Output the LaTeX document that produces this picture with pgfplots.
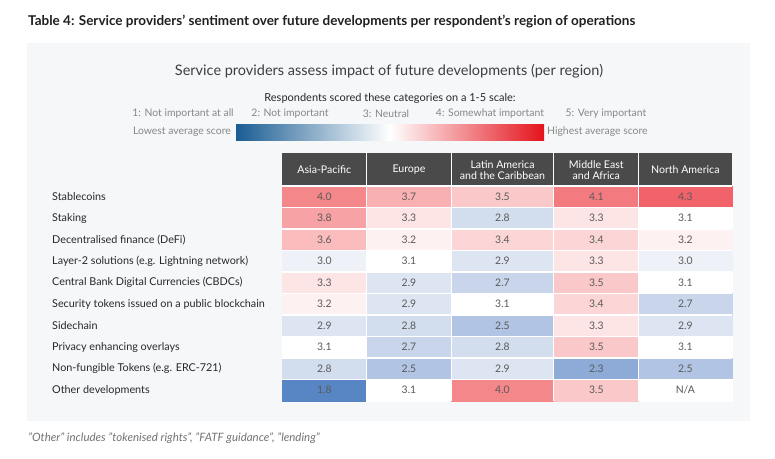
\documentclass[border=0pt]{standalone}
\usepackage{pgfplots}
\pgfplotsset{compat=1.18}
\usepackage{fontspec}
\setmainfont{Lato}
\definecolor{panel}{RGB}{246,247,249}
\definecolor{hdr}{RGB}{74,74,74}
\definecolor{txt}{RGB}{40,40,40}
\definecolor{subt}{RGB}{62,62,62}
\definecolor{celltxt}{RGB}{90,90,90}
\definecolor{lgray}{RGB}{135,135,135}
\definecolor{fgray}{RGB}{115,115,115}
\definecolor{cbblue}{RGB}{26,93,147}
\definecolor{cbred}{RGB}{228,18,27}
\begin{document}
\begin{tikzpicture}
\begin{axis}[
  scale only axis, width=775bp, height=459bp,
  xmin=0, xmax=775, ymin=0, ymax=459, y dir=reverse,
  hide axis, clip=false,
  colormap={cells}{rgb255(18cm)=(88,134,197) rgb255(23cm)=(142,171,216) rgb255(25cm)=(178,196,227) rgb255(27cm)=(200,213,234) rgb255(29cm)=(221,229,242) rgb255(31cm)=(255,255,255) rgb255(33cm)=(253,228,229) rgb255(35cm)=(251,200,201) rgb255(37cm)=(249,176,178) rgb255(40cm)=(244,135,138) rgb255(43cm)=(242,98,106)},
  point meta min=1.8, point meta max=4.3,
]
% backgrounds
\fill[white] (axis cs:0,0) rectangle (axis cs:775,459);
\fill[panel] (axis cs:27,43) rectangle (axis cs:750,421);
\fill[white] (axis cs:282,186) rectangle (axis cs:731.7,401);
\fill[hdr] (axis cs:282,153) rectangle (axis cs:731.7,186);

% heatmap: grid of cell corners; with flat corner each cell takes the score
% stored at its top-left corner (last column/row are unused placeholders;
% the N/A cell is given the neutral value so it stays white)
\addplot[surf, shader=flat corner, mesh/cols=6, point meta=\thisrow{s}] table {
x y s
282 186 4.0
366.6 186 3.7
451.3 186 3.5
553.8 186 4.1
638.8 186 4.3
731.7 186 3.1
282 207.5 3.8
366.6 207.5 3.3
451.3 207.5 2.8
553.8 207.5 3.3
638.8 207.5 3.1
731.7 207.5 3.1
282 229 3.6
366.6 229 3.2
451.3 229 3.4
553.8 229 3.4
638.8 229 3.2
731.7 229 3.1
282 250.5 3.0
366.6 250.5 3.1
451.3 250.5 2.9
553.8 250.5 3.3
638.8 250.5 3.0
731.7 250.5 3.1
282 272 3.3
366.6 272 2.9
451.3 272 2.7
553.8 272 3.5
638.8 272 3.1
731.7 272 3.1
282 293.5 3.2
366.6 293.5 2.9
451.3 293.5 3.1
553.8 293.5 3.4
638.8 293.5 2.7
731.7 293.5 3.1
282 315 2.9
366.6 315 2.8
451.3 315 2.5
553.8 315 3.3
638.8 315 2.9
731.7 315 3.1
282 336.5 3.1
366.6 336.5 2.7
451.3 336.5 2.8
553.8 336.5 3.5
638.8 336.5 3.1
731.7 336.5 3.1
282 358 2.8
366.6 358 2.5
451.3 358 2.9
553.8 358 2.3
638.8 358 2.5
731.7 358 3.1
282 379.5 1.8
366.6 379.5 3.1
451.3 379.5 4.0
553.8 379.5 3.5
638.8 379.5 3.1
731.7 379.5 3.1
282 401 3.1
366.6 401 3.1
451.3 401 3.1
553.8 401 3.1
638.8 401 3.1
731.7 401 3.1
};

% white cell separators
\draw[white, line width=1.2bp] (axis cs:366.6,153) -- (axis cs:366.6,401);
\draw[white, line width=1.2bp] (axis cs:451.3,153) -- (axis cs:451.3,401);
\draw[white, line width=1.2bp] (axis cs:553.8,153) -- (axis cs:553.8,401);
\draw[white, line width=1.2bp] (axis cs:638.8,153) -- (axis cs:638.8,401);
\draw[white, line width=1.2bp] (axis cs:282,186) -- (axis cs:731.7,186);
\draw[white, line width=1.2bp] (axis cs:282,207.5) -- (axis cs:731.7,207.5);
\draw[white, line width=1.2bp] (axis cs:282,229) -- (axis cs:731.7,229);
\draw[white, line width=1.2bp] (axis cs:282,250.5) -- (axis cs:731.7,250.5);
\draw[white, line width=1.2bp] (axis cs:282,272) -- (axis cs:731.7,272);
\draw[white, line width=1.2bp] (axis cs:282,293.5) -- (axis cs:731.7,293.5);
\draw[white, line width=1.2bp] (axis cs:282,315) -- (axis cs:731.7,315);
\draw[white, line width=1.2bp] (axis cs:282,336.5) -- (axis cs:731.7,336.5);
\draw[white, line width=1.2bp] (axis cs:282,358) -- (axis cs:731.7,358);
\draw[white, line width=1.2bp] (axis cs:282,379.5) -- (axis cs:731.7,379.5);

% cell values
\addplot[draw=none, nodes near coords, point meta=explicit symbolic,
  every node near coord/.append style={anchor=center, inner sep=0pt, text=celltxt, font=\fontsize{10.4bp}{12bp}\selectfont}]
  table[meta=t] {
x y t
324.3 196.75 4.0
409.0 196.75 3.7
502.5 196.75 3.5
596.3 196.75 4.1
685.3 196.75 4.3
324.3 218.25 3.8
409.0 218.25 3.3
502.5 218.25 2.8
596.3 218.25 3.3
685.3 218.25 3.1
324.3 239.75 3.6
409.0 239.75 3.2
502.5 239.75 3.4
596.3 239.75 3.4
685.3 239.75 3.2
324.3 261.25 3.0
409.0 261.25 3.1
502.5 261.25 2.9
596.3 261.25 3.3
685.3 261.25 3.0
324.3 282.75 3.3
409.0 282.75 2.9
502.5 282.75 2.7
596.3 282.75 3.5
685.3 282.75 3.1
324.3 304.25 3.2
409.0 304.25 2.9
502.5 304.25 3.1
596.3 304.25 3.4
685.3 304.25 2.7
324.3 325.75 2.9
409.0 325.75 2.8
502.5 325.75 2.5
596.3 325.75 3.3
685.3 325.75 2.9
324.3 347.25 3.1
409.0 347.25 2.7
502.5 347.25 2.8
596.3 347.25 3.5
685.3 347.25 3.1
324.3 368.75 2.8
409.0 368.75 2.5
502.5 368.75 2.9
596.3 368.75 2.3
685.3 368.75 2.5
324.3 390.25 1.8
409.0 390.25 3.1
502.5 390.25 4.0
596.3 390.25 3.5
685.3 390.25 N/A
};

% header labels
\begin{scope}[every node/.style={text=white, align=center, font=\fontsize{10.6bp}{11bp}\selectfont, inner sep=0pt}]
\node at (axis cs:324.3,170) {Asia-Pacific};
\node at (axis cs:409.0,170) {Europe};
\node at (axis cs:502.5,170) {Latin America\\and the Caribbean};
\node at (axis cs:596.3,170) {Middle East\\and Africa};
\node at (axis cs:685.3,170) {North America};
\end{scope}

% row labels
\begin{scope}[every node/.style={text=txt, anchor=west, font=\fontsize{10.8bp}{12bp}\selectfont, inner sep=0pt}]
\node at (axis cs:52,196.75) {Stablecoins};
\node at (axis cs:52,218.25) {Staking};
\node at (axis cs:52,239.75) {Decentralised finance (DeFi)};
\node at (axis cs:52,261.25) {Layer-2 solutions (e.g. Lightning network)};
\node at (axis cs:52,282.75) {Central Bank Digital Currencies (CBDCs)};
\node at (axis cs:52,304.25) {Security tokens issued on a public blockchain};
\node at (axis cs:52,325.75) {Sidechain};
\node at (axis cs:52,347.25) {Privacy enhancing overlays};
\node at (axis cs:52,368.75) {Non-fungible Tokens (e.g. ERC-721)};
\node at (axis cs:52,390.25) {Other developments};
\end{scope}

% titles
\node[anchor=west, inner sep=0pt, text=black!88, font=\bfseries\fontsize{13.5bp}{16bp}\selectfont] at (axis cs:28,22) {Table 4: Service providers’ sentiment over future developments per respondent’s region of operations};
\node[inner sep=0pt, text=subt, font=\fontsize{14.5bp}{17bp}\selectfont] at (axis cs:389,71) {Service providers assess impact of future developments (per region)};
\node[inner sep=0pt, text=txt, font=\fontsize{11bp}{13bp}\selectfont] at (axis cs:390,98) {Respondents scored these categories on a 1-5 scale:};

% scale legend
\begin{scope}[every node/.style={inner sep=0pt, text=lgray, font=\fontsize{10.4bp}{12bp}\selectfont}]
\node at (axis cs:183,114) {1: Not important at all};
\node at (axis cs:290,114) {2: Not important};
\node at (axis cs:386,114) {3: Neutral};
\node at (axis cs:490,114) {4: Somewhat important};
\node at (axis cs:606,114) {5: Very important};
\node[anchor=east] at (axis cs:231,132) {Lowest average score};
\node[anchor=west] at (axis cs:547,132) {Highest average score};
\end{scope}
\shade[left color=cbblue, right color=cbred, middle color=white] (axis cs:236,124) rectangle (axis cs:544,140);

% footnote
\node[anchor=west, inner sep=0pt, text=fgray, font=\itshape\fontsize{11.5bp}{13bp}\selectfont] at (axis cs:28,438) {"Other" includes "tokenised rights", "FATF guidance", "lending"};
\end{axis}
\end{tikzpicture}
\end{document}
